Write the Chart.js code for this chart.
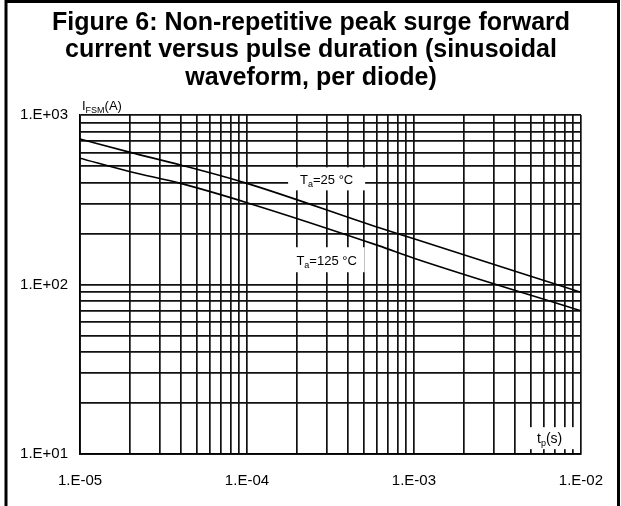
<!DOCTYPE html>
<html>
<head>
<meta charset="utf-8">
<script src="https://cdn.jsdelivr.net/npm/chart.js@4"></script>
<style>
  body { margin: 0; background: #fff; }
  canvas { display: block; }
</style>
</head>
<body>
<canvas id="surgeChart" width="621" height="506"></canvas>
<script>
// pulse duration (s) and surge current (A)
const tpValues = [1e-5, 2e-5, 4e-5, 1e-4, 6.2e-4, 1e-3, 1e-2];
const ifsm25 = [722, 602, 507, 395, 216, 186, 90];
const ifsm125 = [556, 463, 395, 304, 169, 143, 70];

const titleLines = [
  "Figure 6: Non-repetitive peak surge forward",
  "current versus pulse duration (sinusoidal",
  "waveform, per diode)",
];

const xDecades = [1e-5, 1e-4, 1e-3, 1e-2];
const xTickLabels = ["1.E-05", "1.E-04", "1.E-03", "1.E-02"];
const yDecades = [10, 100, 1000];
const yTickLabels = ["1.E+01", "1.E+02", "1.E+03"];
const minorSteps = [1, 2, 3, 4, 5, 6, 7, 8, 9];

// grid values: every 1..9 step inside each decade, plus the last decade
function gridValues(decades) {
  const vals = [];
  for (let i = 0; i < decades.length - 1; i++) {
    minorSteps.forEach((m) => vals.push(decades[i] * m));
  }
  vals.push(decades[decades.length - 1]);
  return vals;
}

function decadeLabel(value, decades, labels) {
  for (let i = 0; i < decades.length; i++) {
    if (Math.abs(Math.log10(value / decades[i])) < 1e-6) return labels[i];
  }
  return "";
}

const toPoints = (ys) => tpValues.map((t, i) => ({ x: t, y: ys[i] }));

// text with a subscript piece: [main, sub, rest]
function drawSubText(ctx, x, y, parts, size, subSize, align) {
  ctx.font = size + "px 'Liberation Sans', Arial, sans-serif";
  const w1 = ctx.measureText(parts[0]).width;
  const w3 = ctx.measureText(parts[2]).width;
  ctx.font = subSize + "px 'Liberation Sans', Arial, sans-serif";
  const w2 = ctx.measureText(parts[1]).width;
  const total = w1 + w2 + w3;
  let x0 = align === "center" ? x - total / 2 : x;
  ctx.textAlign = "left";
  ctx.textBaseline = "alphabetic";
  ctx.fillStyle = "#000";
  ctx.font = size + "px 'Liberation Sans', Arial, sans-serif";
  ctx.fillText(parts[0], x0, y);
  ctx.font = subSize + "px 'Liberation Sans', Arial, sans-serif";
  ctx.fillText(parts[1], x0 + w1, y + 3);
  ctx.font = size + "px 'Liberation Sans', Arial, sans-serif";
  ctx.fillText(parts[2], x0 + w1 + w2, y);
}

const figurePlugin = {
  id: "figureDecor",
  beforeDraw(chart) {
    const ctx = chart.ctx;
    ctx.save();
    ctx.fillStyle = "#fff";
    ctx.fillRect(0, 0, chart.width, chart.height);
    // frame round the figure
    ctx.strokeStyle = "#000";
    ctx.lineWidth = 3;
    ctx.beginPath();
    ctx.moveTo(6, 506);
    ctx.lineTo(6, 1.5);
    ctx.lineTo(618.5, 1.5);
    ctx.lineTo(618.5, 506);
    ctx.stroke();
    // title
    ctx.fillStyle = "#000";
    ctx.textAlign = "center";
    ctx.textBaseline = "middle";
    ctx.font = "bold 25px 'Liberation Sans', Arial, sans-serif";
    titleLines.forEach((line, i) => ctx.fillText(line, 311, 23 + i * 27.5));
    ctx.restore();
  },
  afterDatasetsDraw(chart) {
    const ctx = chart.ctx;
    const xs = chart.scales.x;
    const ys = chart.scales.y;
    ctx.save();
    // y axis name
    drawSubText(ctx, chart.chartArea.left + 2, 110, ["I", "FSM", "(A)"], 13, 9, "left");

    const boxes = [
      { t: 3.0e-4, i: 420, w: 77, h: 23, parts: ["T", "a", "=25 \u00b0C"], size: 13 },
      { t: 3.0e-4, i: 140, w: 76, h: 25, parts: ["T", "a", "=125 \u00b0C"], size: 13 },
      { t: 6.5e-3, i: 12.4, w: 56, h: 22, parts: ["t", "p", "(s)"], size: 14 },
    ];
    boxes.forEach((b) => {
      const cx = xs.getPixelForValue(b.t);
      const cy = ys.getPixelForValue(b.i);
      ctx.fillStyle = "#fff";
      ctx.fillRect(cx - b.w / 2, cy - b.h / 2, b.w, b.h);
      drawSubText(ctx, cx, cy + 5, b.parts, b.size, 9, "center");
    });
    ctx.restore();
  },
};

const axisFont = { family: "'Liberation Sans', Arial, sans-serif", size: 15 };

const config = {
  type: "scatter",
  data: {
    datasets: [
      {
        label: "Ta=25 °C",
        data: toPoints(ifsm25),
        showLine: true,
        borderColor: "#000",
        borderWidth: 1.6,
        pointRadius: 0,
        cubicInterpolationMode: "monotone",
      },
      {
        label: "Ta=125 °C",
        data: toPoints(ifsm125),
        showLine: true,
        borderColor: "#000",
        borderWidth: 1.6,
        pointRadius: 0,
        cubicInterpolationMode: "monotone",
      },
    ],
  },
  options: {
    responsive: false,
    animation: false,
    layout: { padding: { top: 115, left: 0, right: 38, bottom: 0 } },
    plugins: {
      legend: { display: false },
      tooltip: { enabled: false },
      title: { display: false },
    },
    scales: {
      x: {
        type: "logarithmic",
        min: xDecades[0],
        max: xDecades[xDecades.length - 1],
        afterBuildTicks: (scale) => {
          scale.ticks = gridValues(xDecades).map((v) => ({ value: v }));
        },
        afterFit: (scale) => { scale.height = 52; },
        grid: { color: "#111", lineWidth: 1.7, drawTicks: false },
        border: { color: "#000", width: 1.7 },
        ticks: {
          autoSkip: false,
          maxRotation: 0,
          padding: 18,
          color: "#000",
          font: axisFont,
          callback: (v) => decadeLabel(v, xDecades, xTickLabels),
        },
      },
      y: {
        type: "logarithmic",
        min: yDecades[0],
        max: yDecades[yDecades.length - 1],
        afterBuildTicks: (scale) => {
          scale.ticks = gridValues(yDecades).map((v) => ({ value: v }));
        },
        afterFit: (scale) => { scale.width = 80; },
        grid: { color: "#111", lineWidth: 1.7, drawTicks: false },
        border: { color: "#000", width: 1.7 },
        ticks: {
          autoSkip: false,
          padding: 12,
          color: "#000",
          font: axisFont,
          callback: (v) => decadeLabel(v, yDecades, yTickLabels),
        },
      },
    },
  },
  plugins: [figurePlugin],
};

const surgeChart = new Chart(document.getElementById("surgeChart").getContext("2d"), config);
</script>
</body>
</html>
